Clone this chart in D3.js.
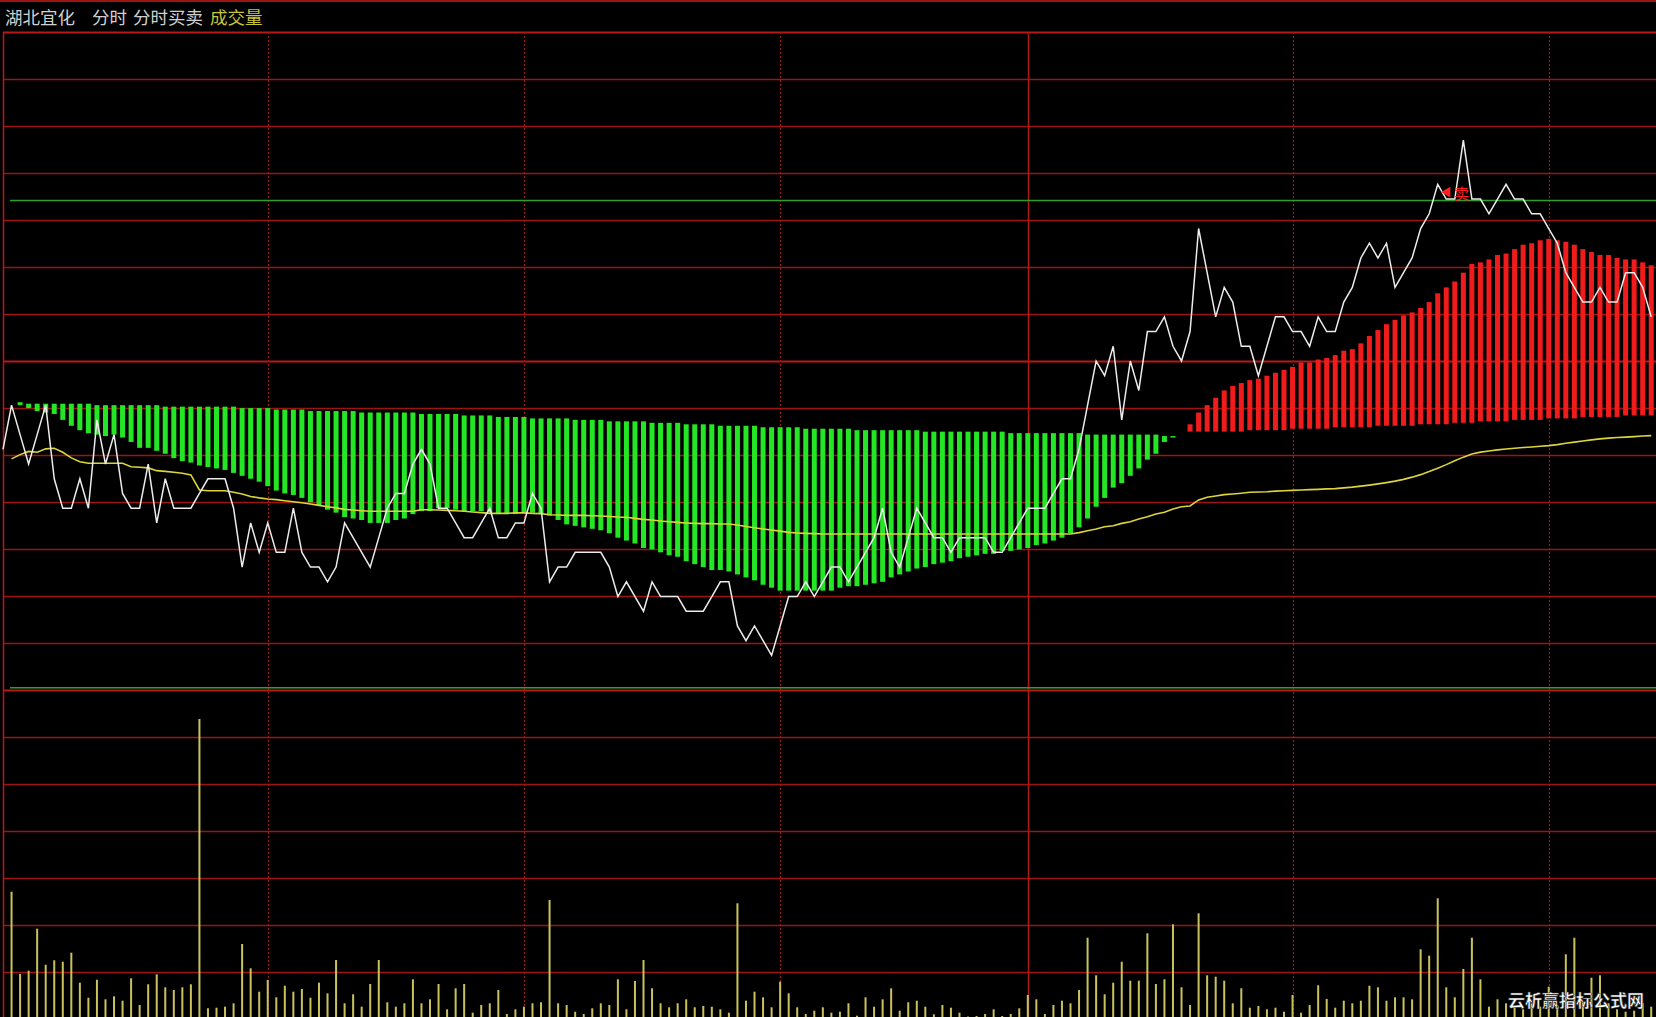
<!DOCTYPE html>
<html><head><meta charset="utf-8">
<script src="https://cdn.jsdelivr.net/npm/d3@7"></script>
<style>html,body{margin:0;padding:0;background:#000;overflow:hidden}</style>
</head><body>
<svg id="chart" width="1656" height="1017"></svg>
<script>
// ---------------- data ----------------
const stockName = "湖北宜化";
const tabs = ["分时", "分时买卖", "成交量"];
const watermark = "云析赢指标公式网";
const prevClose = 4.47;

// last price per minute (index 0 = 09:30)
const price = [
4.41,4.44,4.42,4.40,4.42,4.44,4.39,4.37,4.37,4.39,
4.37,4.43,4.40,4.42,4.38,4.37,4.37,4.40,4.36,4.39,
4.37,4.37,4.37,4.38,4.39,4.39,4.39,4.37,4.33,4.36,
4.34,4.36,4.34,4.34,4.37,4.34,4.33,4.33,4.32,4.33,
4.36,4.35,4.34,4.33,4.35,4.37,4.38,4.38,4.40,4.41,
4.40,4.37,4.37,4.36,4.35,4.35,4.36,4.37,4.35,4.35,
4.36,4.36,4.38,4.37,4.32,4.33,4.33,4.34,4.34,4.34,
4.34,4.33,4.31,4.32,4.31,4.30,4.32,4.31,4.31,4.31,
4.30,4.30,4.30,4.31,4.32,4.32,4.29,4.28,4.29,4.28,
4.27,4.29,4.31,4.31,4.32,4.31,4.32,4.33,4.33,4.32,
4.33,4.34,4.35,4.37,4.34,4.33,4.35,4.37,4.36,4.35,
4.35,4.34,4.35,4.35,4.35,4.35,4.34,4.34,4.35,4.36,
4.37,4.37,4.37,4.38,4.39,4.39,4.41,4.44,4.47,4.46,
4.48,4.43,4.47,4.45,4.49,4.49,4.50,4.48,4.47,4.49,
4.56,4.53,4.50,4.52,4.51,4.48,4.48,4.46,4.48,4.50,
4.50,4.49,4.49,4.48,4.50,4.49,4.49,4.51,4.52,4.54,
4.55,4.54,4.55,4.52,4.53,4.54,4.56,4.57,4.59,4.58,
4.58,4.62,4.58,4.58,4.57,4.58,4.59,4.58,4.58,4.57,
4.57,4.56,4.55,4.53,4.52,4.51,4.51,4.52,4.51,4.51,
4.53,4.53,4.52,4.50];

// average price line
const avgPrice = [
null,4.4035,4.4064,4.4086,4.4080,4.4103,4.4107,4.4080,4.4042,4.4016,
4.4005,4.4005,4.4005,4.4005,4.4005,4.3982,4.3978,4.3974,4.3955,4.3950,
4.3944,4.3937,4.3926,4.3824,4.3819,4.3819,4.3819,4.3808,4.3797,4.3780,
4.3770,4.3763,4.3758,4.3751,4.3744,4.3737,4.3729,4.3719,4.3710,4.3702,
4.3692,4.3688,4.3683,4.3679,4.3679,4.3679,4.3679,4.3679,4.3679,4.3690,
4.3690,4.3688,4.3685,4.3683,4.3679,4.3674,4.3670,4.3665,4.3665,4.3665,
4.3668,4.3668,4.3665,4.3663,4.3656,4.3654,4.3651,4.3651,4.3651,4.3649,
4.3647,4.3644,4.3640,4.3638,4.3631,4.3624,4.3620,4.3613,4.3608,4.3604,
4.3600,4.3597,4.3595,4.3595,4.3593,4.3593,4.3586,4.3576,4.3567,4.3559,
4.3552,4.3544,4.3536,4.3532,4.3529,4.3527,4.3525,4.3525,4.3525,4.3525,
4.3525,4.3525,4.3525,4.3525,4.3525,4.3525,4.3525,4.3525,4.3525,4.3525,
4.3525,4.3525,4.3525,4.3525,4.3525,4.3525,4.3525,4.3525,4.3525,4.3525,
4.3525,4.3525,4.3525,4.3525,4.3525,4.3525,4.3534,4.3547,4.3559,4.3574,
4.3581,4.3597,4.3608,4.3627,4.3642,4.3661,4.3672,4.3695,4.3710,4.3715,
4.3756,4.3774,4.3783,4.3792,4.3797,4.3802,4.3808,4.3810,4.3812,4.3816,
4.3819,4.3821,4.3824,4.3826,4.3828,4.3831,4.3833,4.3838,4.3843,4.3850,
4.3857,4.3865,4.3874,4.3884,4.3896,4.3911,4.3928,4.3949,4.3972,4.3996,
4.4023,4.4047,4.4068,4.4081,4.4089,4.4096,4.4102,4.4107,4.4112,4.4116,
4.4121,4.4125,4.4132,4.4141,4.4149,4.4157,4.4164,4.4171,4.4176,4.4180,
4.4183,4.4186,4.4190,4.4193];

// buy/sell band: slow line and fast line (bar drawn between them)
const bandSlow = [
null,null,4.442,4.441,4.441,4.441,4.441,4.441,4.441,4.441,
4.441,4.440,4.440,4.440,4.440,4.440,4.440,4.440,4.440,4.439,
4.439,4.439,4.439,4.439,4.439,4.439,4.439,4.439,4.438,4.438,
4.438,4.438,4.437,4.437,4.437,4.437,4.436,4.436,4.436,4.436,
4.436,4.436,4.435,4.435,4.435,4.435,4.435,4.435,4.435,4.434,
4.434,4.434,4.434,4.434,4.433,4.433,4.433,4.433,4.432,4.432,
4.432,4.432,4.431,4.431,4.431,4.431,4.431,4.430,4.430,4.430,
4.430,4.429,4.429,4.429,4.429,4.429,4.428,4.428,4.428,4.428,
4.427,4.427,4.427,4.427,4.426,4.426,4.426,4.426,4.426,4.425,
4.425,4.425,4.425,4.425,4.424,4.424,4.424,4.424,4.424,4.424,
4.423,4.423,4.423,4.423,4.423,4.423,4.423,4.423,4.422,4.422,
4.422,4.422,4.422,4.422,4.422,4.422,4.422,4.422,4.421,4.421,
4.421,4.421,4.421,4.421,4.421,4.421,4.421,4.420,4.420,4.420,
4.420,4.420,4.420,4.420,4.420,4.420,4.419,4.419,4.420,4.422,
4.422,4.422,4.422,4.422,4.422,4.422,4.423,4.423,4.423,4.423,
4.423,4.424,4.424,4.424,4.424,4.424,4.425,4.425,4.425,4.425,
4.425,4.426,4.426,4.426,4.426,4.426,4.427,4.427,4.427,4.427,
4.428,4.428,4.428,4.429,4.429,4.429,4.429,4.430,4.430,4.430,
4.430,4.431,4.431,4.431,4.431,4.432,4.432,4.432,4.432,4.432,
4.433,4.433,4.433,4.433];

const bandFast = [
null,null,4.440,4.438,4.436,4.435,4.434,4.430,4.426,4.423,
4.421,4.420,4.419,4.420,4.418,4.415,4.411,4.411,4.409,4.407,
4.404,4.402,4.401,4.399,4.398,4.397,4.396,4.394,4.392,4.390,
4.388,4.385,4.382,4.380,4.379,4.377,4.374,4.372,4.369,4.367,
4.364,4.363,4.362,4.360,4.360,4.360,4.362,4.363,4.366,4.368,
4.368,4.370,4.370,4.369,4.368,4.368,4.368,4.367,4.366,4.366,
4.366,4.367,4.367,4.366,4.365,4.362,4.359,4.358,4.357,4.356,
4.355,4.353,4.350,4.348,4.346,4.343,4.342,4.340,4.338,4.337,
4.334,4.332,4.330,4.328,4.328,4.327,4.325,4.323,4.321,4.318,
4.316,4.314,4.314,4.314,4.314,4.314,4.314,4.314,4.316,4.317,
4.317,4.318,4.319,4.320,4.323,4.325,4.327,4.329,4.330,4.332,
4.333,4.334,4.336,4.337,4.338,4.339,4.339,4.341,4.341,4.342,
4.343,4.345,4.346,4.348,4.350,4.353,4.357,4.363,4.371,4.377,
4.384,4.387,4.392,4.397,4.403,4.407,4.415,4.418,4.420,4.427,
4.435,4.440,4.445,4.450,4.453,4.455,4.457,4.458,4.460,4.462,
4.464,4.466,4.469,4.469,4.471,4.472,4.474,4.477,4.478,4.482,
4.487,4.491,4.495,4.498,4.501,4.503,4.506,4.510,4.516,4.520,
4.524,4.530,4.536,4.537,4.539,4.542,4.543,4.546,4.549,4.550,
4.552,4.553,4.552,4.551,4.549,4.546,4.544,4.542,4.542,4.540,
4.539,4.539,4.537,4.535];

// volume per minute (lots)
const volume = [
null,1253,430,463,883,523,567,553,643,343,
193,373,177,207,163,387,120,327,427,297,
270,297,327,2980,87,93,103,137,730,487,
253,370,197,313,253,280,193,343,237,570,
137,227,103,330,570,147,103,137,377,137,
177,330,77,287,330,43,120,137,270,30,
77,103,137,147,1170,137,120,53,30,87,
137,120,377,77,360,570,287,137,97,137,
177,97,110,103,77,43,1137,163,253,197,
97,353,237,97,30,63,97,43,53,137,
13,197,103,177,287,63,147,163,103,27,
120,93,43,5,10,30,77,10,30,87,
220,177,30,120,163,137,270,793,417,227,
343,553,363,363,837,330,377,927,297,120,
1037,417,403,363,137,287,93,110,77,93,
53,220,43,120,317,180,93,163,137,163,
313,297,163,197,197,177,677,613,1187,297,
197,480,793,377,103,177,137,103,77,137,
103,303,120,627,793,153,393,417,137,77,
53,63,137,103];

const levelLines = [4.579, 4.248];
const dottedMinutes = [31, 61, 91, 151, 181];
const solidMinutes = [120];
const signal = { minute: 169, price: 4.580, text: "卖" };

// ---------------- drawing ----------------
const W = 1656, H = 1017;
const svg = d3.select("#chart");
svg.append("rect").attr("width", W).attr("height", H).attr("fill", "#000");

const x = d3.scaleLinear().domain([0, 240]).range([3, 3 + 240 * 8.54]);
const y = d3.scaleLinear().domain([prevClose * 0.95, prevClose * 1.05]).range([690, 32]);
const yv = d3.scaleLinear().domain([0, 3270]).range([1017, 690]);

const gridColor = "#9c1414";
const [lo, hi] = y.domain();
const priceGrid = d3.range(15).map(k => lo + k * (hi - lo) / 14);
const volGrid = d3.range(1, 7).map(k => 3270 - 470 * k);

const g = svg.append("g");
// top rule
g.append("line").attr("x1", 0).attr("x2", W).attr("y1", 1).attr("y2", 1)
  .attr("stroke", gridColor).attr("stroke-width", 2);

g.selectAll(".hp").data(priceGrid).join("line")
  .attr("x1", 3).attr("x2", W)
  .attr("y1", d => Math.round(y(d)) + 0.5).attr("y2", d => Math.round(y(d)) + 0.5)
  .attr("stroke", (d, i) => (i === 0 || i === 7 || i === 14) ? "#b81818" : gridColor)
  .attr("stroke-width", (d, i) => (i === 0 || i === 7 || i === 14) ? 2 : 1.3);

g.selectAll(".hv").data(volGrid).join("line")
  .attr("x1", 3).attr("x2", W)
  .attr("y1", d => Math.round(yv(d)) + 0.5).attr("y2", d => Math.round(yv(d)) + 0.5)
  .attr("stroke", gridColor).attr("stroke-width", 1.3);

// left border
g.append("line").attr("x1", 3.5).attr("x2", 3.5).attr("y1", 32).attr("y2", H)
  .attr("stroke", "#b81818").attr("stroke-width", 1.5);

g.selectAll(".vd").data(dottedMinutes).join("line")
  .attr("x1", d => Math.round(x(d)) + 0.5).attr("x2", d => Math.round(x(d)) + 0.5)
  .attr("y1", 32).attr("y2", H)
  .attr("stroke", "#a01616").attr("stroke-width", 1.2).attr("stroke-dasharray", "2,2");

g.selectAll(".vs").data(solidMinutes).join("line")
  .attr("x1", d => Math.round(x(d)) + 0.5).attr("x2", d => Math.round(x(d)) + 0.5)
  .attr("y1", 32).attr("y2", H)
  .attr("stroke", "#b01818").attr("stroke-width", 1.5);

// green level lines
g.selectAll(".lvl").data(levelLines).join("line")
  .attr("x1", 10).attr("x2", W)
  .attr("y1", d => y(d)).attr("y2", d => y(d))
  .attr("stroke", "#2e9e2e").attr("stroke-width", 1.6);

// band bars
const bandIdx = d3.range(price.length).filter(i => bandSlow[i] != null && bandFast[i] != null && bandSlow[i] !== bandFast[i]);
svg.append("g").selectAll("rect").data(bandIdx).join("rect")
  .attr("x", i => x(i) - 2.5)
  .attr("width", 5)
  .attr("y", i => Math.min(y(bandSlow[i]), y(bandFast[i])))
  .attr("height", i => Math.max(1.5, Math.abs(y(bandSlow[i]) - y(bandFast[i]))))
  .attr("fill", i => bandFast[i] > bandSlow[i] ? "#f01c1c" : "#24e624");

// volume bars
const volIdx = d3.range(volume.length).filter(i => volume[i] != null);
svg.append("g").selectAll("rect").data(volIdx).join("rect")
  .attr("x", i => x(i) - 1)
  .attr("width", 2)
  .attr("y", i => yv(volume[i]))
  .attr("height", i => yv(0) - yv(volume[i]))
  .attr("fill", "#c9c25c");

// average line
const avgLine = d3.line().defined(d => d != null).x((d, i) => x(i)).y(d => y(d));
svg.append("path").datum(avgPrice).attr("d", avgLine)
  .attr("fill", "none").attr("stroke", "#dcd43a").attr("stroke-width", 1.6);

// price line
const priceLine = d3.line().x((d, i) => x(i)).y(d => y(d));
svg.append("path").datum(price).attr("d", priceLine)
  .attr("fill", "none").attr("stroke", "#ececec").attr("stroke-width", 1.5)
  .attr("stroke-linejoin", "miter");

// signal label
svg.append("path")
  .attr("d", d3.symbol(d3.symbolTriangle, 50)())
  .attr("transform", `translate(${x(signal.minute) + 1},${y(signal.price) - 7}) rotate(-90)`)
  .attr("fill", "#ff2020");
svg.append("text").attr("x", x(signal.minute) + 8).attr("y", y(signal.price))
  .attr("fill", "#ff2020").attr("font-size", 15)
  .attr("font-family", "Noto Sans CJK SC, sans-serif").text(signal.text);

// title
const title = svg.append("text").attr("y", 24)
  .attr("font-family", "Noto Sans CJK SC, sans-serif").attr("font-size", 17.5);
title.append("tspan").attr("x", 5).attr("fill", "#d0d0d0").text(stockName);
title.append("tspan").attr("x", 92).attr("fill", "#d0d0d0").text(tabs[0]);
title.append("tspan").attr("x", 133).attr("fill", "#d0d0d0").text(tabs[1]);
title.append("tspan").attr("x", 210).attr("fill", "#c8c43c").text(tabs[2]);

// watermark
svg.append("text").attr("x", 1508).attr("y", 1007)
  .attr("font-family", "Noto Sans CJK SC, sans-serif").attr("font-size", 17)
  .attr("font-weight", "bold").attr("fill", "#ffffff")
  .attr("stroke", "#333").attr("stroke-width", 0.5)
  .text(watermark);
</script>
</body></html>
